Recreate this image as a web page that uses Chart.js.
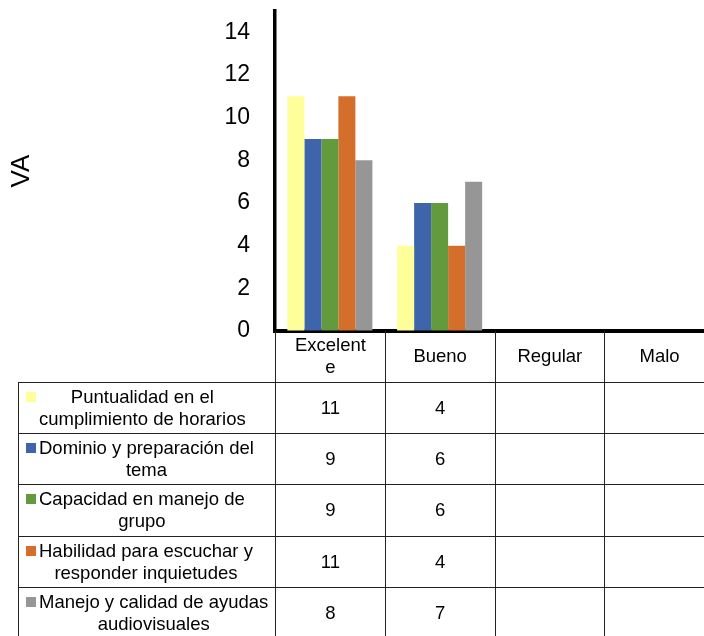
<!DOCTYPE html>
<html>
<head>
<meta charset="utf-8">
<script src="https://cdn.jsdelivr.net/npm/chart.js@4.4.1/dist/chart.umd.min.js"></script>
<style>
html, body { margin: 0; padding: 0; background: #fff; overflow: hidden; }
#wrap { position: relative; width: 704px; height: 636px; overflow: hidden; }
#chart { position: absolute; left: 0; top: 0; }
#tabla { position: absolute; left: 0; top: 0; width: 720px; height: 640px; font-family: 'Liberation Sans', Arial, sans-serif; font-size: 18.5px; line-height: 22px; color: #000; }
.cell { position: absolute; box-sizing: border-box; display: flex; align-items: center; justify-content: center; text-align: center; border-left: 1px solid #222; border-top: 1px solid #222; }
.head { border-top: none; }
.name { justify-content: flex-start; padding-left: 20px; }
.txt { position: relative; display: inline-block; white-space: nowrap; }
.key { position: absolute; left: -13px; top: 6px; width: 10px; height: 10px; }
</style>
</head>
<body>
<div id="wrap">
    <canvas id="chart" width="714" height="360"></canvas>
    <div id="tabla"></div>
</div>
<script>
const categories = ['Excelente', 'Bueno', 'Regular', 'Malo'];
const headerLabels = [['Excelent', 'e'], ['Bueno'], ['Regular'], ['Malo']];

const yMax = 15;
const yStep = 2;

const seriesNames = [
    'Puntualidad en el cumplimiento de horarios',
    'Dominio y preparación del tema',
    'Capacidad en manejo de grupo',
    'Habilidad para escuchar y responder inquietudes',
    'Manejo y calidad de ayudas audiovisuales'
];
const seriesColors = ['#FFFF99', '#3E65AC', '#629A3D', '#D46F2B', '#969696'];

const puntualidad = [11, 4, null, null];
const dominio = [9, 6, null, null];
const capacidad = [9, 6, null, null];
const habilidad = [11, 4, null, null];
const manejo = [8, 7, null, null];

const series = [puntualidad, dominio, capacidad, habilidad, manejo];

Chart.defaults.font.family = "'Liberation Sans', Arial, sans-serif";
Chart.defaults.color = '#000';

const ctx = document.getElementById('chart').getContext('2d');

const chart = new Chart(ctx, {
    type: 'bar',
    data: {
        labels: categories,
        datasets: series.map((values, i) => ({
            label: seriesNames[i],
            data: values,
            backgroundColor: seriesColors[i],
            borderWidth: 0,
            categoryPercentage: 0.775,
            barPercentage: 1
        }))
    },
    options: {
        responsive: false,
        animation: false,
        layout: { padding: { top: 11, bottom: 29, left: 0, right: 0 } },
        plugins: {
            legend: { display: false },
            tooltip: { enabled: false }
        },
        scales: {
            x: {
                grid: { drawOnChartArea: false, drawTicks: false },
                border: { color: '#000', width: 4 },
                ticks: { display: false },
                afterFit: s => { s.height = 0; s.paddingLeft = 0; s.paddingRight = 0; }
            },
            y: {
                min: 0,
                max: yMax,
                grid: { drawOnChartArea: false, drawTicks: false },
                border: { color: '#000', width: 3.5 },
                ticks: { stepSize: yStep, includeBounds: false, padding: 25, color: '#000', font: { size: 23 } },
                title: { display: true, text: 'VA', color: '#000', font: { size: 26 }, padding: { top: 6, bottom: 0 } },
                afterFit: s => { s.width = 275; s.paddingTop = 0; s.paddingBottom = 0; }
            }
        }
    }
});

// wrap a label into lines the way the data table does
function wrapText(text, maxWidth) {
    let m = document.createElement('canvas').getContext('2d');
    m.font = "18.5px 'Liberation Sans', Arial, sans-serif";
    let words = text.split(' ');
    let lines = [];
    let line = '';
    words.forEach(w => {
        let test = line ? line + ' ' + w : w;
        if (line && m.measureText(test).width > maxWidth) {
            lines.push(line);
            line = w;
        } else {
            line = test;
        }
    });
    lines.push(line);
    return lines;
}

function addCell(left, top, width, height, cls) {
    let cell = document.createElement('div');
    cell.className = 'cell ' + cls;
    cell.style.left = left + 'px';
    cell.style.top = top + 'px';
    cell.style.width = width + 'px';
    cell.style.height = height + 'px';
    document.getElementById('tabla').appendChild(cell);
    return cell;
}

function addLines(el, lines) {
    lines.forEach((l, i) => {
        if (i > 0) el.appendChild(document.createElement('br'));
        el.appendChild(document.createTextNode(l));
    });
}

function buildTable() {
    const area = chart.chartArea;
    const colW = (area.right - area.left) / categories.length;
    const tableLeft = 18;
    const headH = 50.5;
    const rowH = 51.4;
    const top = area.bottom;

    headerLabels.forEach((lab, i) => {
        let cell = addCell(area.left + i * colW, top, colW, headH, 'head');
        let span = document.createElement('span');
        addLines(span, lab);
        cell.appendChild(span);
    });

    series.forEach((values, r) => {
        let y = top + headH + r * rowH;
        let nameCell = addCell(tableLeft, y, area.left - tableLeft, rowH, 'name');
        let txt = document.createElement('span');
        txt.className = 'txt';
        let key = document.createElement('span');
        key.className = 'key';
        key.style.background = seriesColors[r];
        txt.appendChild(key);
        addLines(txt, wrapText(seriesNames[r], 232));
        nameCell.appendChild(txt);

        values.forEach((v, i) => {
            let cell = addCell(area.left + i * colW, y, colW, rowH, 'val');
            cell.textContent = v === null ? '' : v;
        });
    });
}

buildTable();
</script>
</body>
</html>
